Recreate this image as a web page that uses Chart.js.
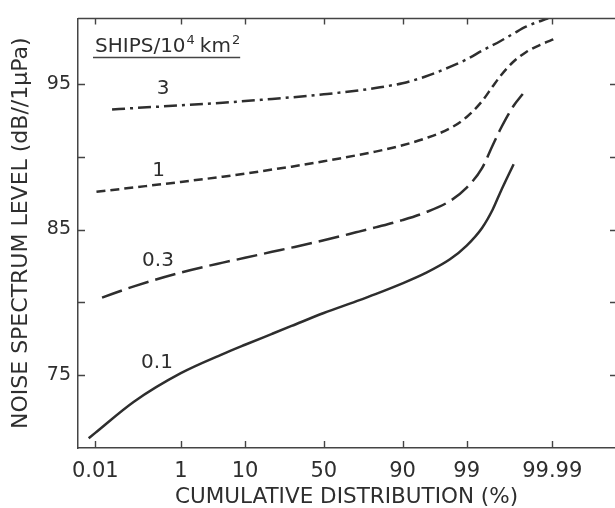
<!DOCTYPE html>
<html><head><meta charset="utf-8">
<script src="https://cdn.jsdelivr.net/npm/chart.js@4"></script>
<style>html,body{margin:0;padding:0;background:#fff;overflow:hidden}#wrap{width:615px;height:508px}</style>
</head><body><div id="wrap"><canvas id="c" width="615" height="508"></canvas></div>
<script>
// ---- data (x in cumulative %, y in dB re 1 µPa) ----
const xTickPercents = [0.01, 1, 10, 50, 90, 99, 99.99];
const xTickLabels = ['0.01', '1', '10', '50', '90', '99', '99.99'];
const yTickValues = [75, 80, 85, 90, 95];
const yLabeledTicks = [75, 85, 95];
const seriesNames = ['3', '1', '0.3', '0.1'];

const s3_pct = [0.0285, 0.1, 1, 5, 10, 20, 30, 50, 70, 80, 90, 95, 98, 99, 99.5, 99.8, 99.9, 99.95, 99.987];
const s3_db  = [93.25, 93.34, 93.53, 93.71, 93.82, 93.97, 94.08, 94.29, 94.53, 94.72, 95.05, 95.49, 96.17, 96.69, 97.28, 97.95, 98.46, 98.93, 99.5];

const s1_pct = [0.0108, 0.1, 1, 5, 10, 20, 30, 50, 70, 80, 90, 95, 98, 99, 99.5, 99.7, 99.8, 99.9, 99.95, 99.98, 99.991];
const s1_db  = [87.59, 87.89, 88.27, 88.63, 88.84, 89.12, 89.32, 89.69, 90.09, 90.35, 90.79, 91.25, 91.95, 92.73, 93.81, 94.82, 95.56, 96.54, 97.18, 97.72, 98.07];

const s03_pct = [0.0154, 0.1, 1, 5, 10, 20, 30, 50, 70, 80, 90, 95, 98, 99, 99.5, 99.7, 99.8, 99.9, 99.94];
const s03_db  = [80.33, 81.1, 82.05, 82.73, 83.06, 83.47, 83.76, 84.26, 84.81, 85.15, 85.65, 86.16, 86.96, 87.88, 89.22, 90.77, 91.92, 93.5, 94.31];

const s01_pct = [0.0065, 0.01, 0.1, 1, 5, 10, 20, 30, 50, 70, 80, 90, 95, 98, 99, 99.5, 99.7, 99.8, 99.9];
const s01_db  = [70.67, 71.04, 73.18, 75.14, 76.45, 77.09, 77.84, 78.38, 79.27, 80.07, 80.57, 81.31, 81.99, 82.96, 83.9, 85.11, 86.36, 87.6, 89.49];

const xMinZ = -4.0, xMaxZ = 4.74;   // probability-axis limits (normal deviates)
const yMin = 70, yMax = 99.5;

// inverse normal CDF (probability-paper axis transform)
function probit(p){
  const a=[-3.969683028665376e+01,2.209460984245205e+02,-2.759285104469687e+02,1.383577518672690e+02,-3.066479806614716e+01,2.506628277459239e+00];
  const b=[-5.447609879822406e+01,1.615858368580409e+02,-1.556989798598866e+02,6.680131188771972e+01,-1.328068155288572e+01];
  const c=[-7.784894002430293e-03,-3.223964580411365e-01,-2.400758277161838e+00,-2.549732539343734e+00,4.374664141464968e+00,2.938163982698783e+00];
  const d=[7.784695709041462e-03,3.224671290700398e-01,2.445134137142996e+00,3.754408661907416e+00];
  const pl=0.02425, ph=1-pl; let q,r;
  if(p<pl){q=Math.sqrt(-2*Math.log(p));return (((((c[0]*q+c[1])*q+c[2])*q+c[3])*q+c[4])*q+c[5])/((((d[0]*q+d[1])*q+d[2])*q+d[3])*q+1);}
  if(p<=ph){q=p-0.5;r=q*q;return (((((a[0]*r+a[1])*r+a[2])*r+a[3])*r+a[4])*r+a[5])*q/(((((b[0]*r+b[1])*r+b[2])*r+b[3])*r+b[4])*r+1);}
  q=Math.sqrt(-2*Math.log(1-p));return -(((((c[0]*q+c[1])*q+c[2])*q+c[3])*q+c[4])*q+c[5])/((((d[0]*q+d[1])*q+d[2])*q+d[3])*q+1);
}
const toPts = (pct, db) => pct.map((p, i) => ({x: probit(p / 100), y: db[i]}));

const INK = '#2e2e2e';
const FONT = 'DejaVu Sans';

function ds(label, pct, db, dash){
  return {label, data: toPts(pct, db), borderColor: INK, borderWidth: 2.5, borderDash: dash,
    pointRadius: 0, cubicInterpolationMode: 'monotone', fill: false, borderCapStyle: 'butt'};
}

const framePlugin = {
  id: 'frame',
  afterDraw(chart){
    const {ctx, chartArea: a, scales: {x, y}} = chart;
    ctx.save();
    ctx.strokeStyle = '#444';
    ctx.lineWidth = 1.5;
    ctx.beginPath(); ctx.moveTo(a.left, a.top); ctx.lineTo(a.right, a.top); ctx.stroke();
    ctx.lineWidth = 1.4;
    ctx.beginPath();
    x.ticks.forEach(t => {
      const px = Math.round(x.getPixelForValue(t.value)) + 0.5;
      ctx.moveTo(px, a.bottom); ctx.lineTo(px, a.bottom - 7);
      ctx.moveTo(px, a.top); ctx.lineTo(px, a.top + 6);
    });
    y.ticks.forEach(t => {
      const py = Math.round(y.getPixelForValue(t.value)) + 0.5;
      ctx.moveTo(a.left, py); ctx.lineTo(a.left + 7, py);
      ctx.moveTo(a.right, py); ctx.lineTo(a.right - 5, py);
    });
    ctx.stroke();

    // legend header
    ctx.fillStyle = INK;
    ctx.textBaseline = 'alphabetic';
    ctx.textAlign = 'left';
    let cx = 95;
    const base = 52;
    ctx.font = '20px "' + FONT + '"';
    ctx.fillText('SHIPS/10', cx, base); cx += ctx.measureText('SHIPS/10').width + 1;
    ctx.font = '13px "' + FONT + '"';
    ctx.fillText('4', cx, base - 8); cx += ctx.measureText('4').width + 5;
    ctx.font = '20px "' + FONT + '"';
    ctx.fillText('km', cx, base); cx += ctx.measureText('km').width + 1;
    ctx.font = '13px "' + FONT + '"';
    ctx.fillText('2', cx, base - 8); cx += ctx.measureText('2').width;
    ctx.lineWidth = 1.5;
    ctx.beginPath(); ctx.moveTo(93, 57.5); ctx.lineTo(Math.max(cx, 240), 57.5); ctx.stroke();

    // curve labels
    ctx.font = '20px "' + FONT + '"';
    ctx.textAlign = 'center';
    ctx.textBaseline = 'middle';
    const labelPos = [[163, 89], [158.5, 171], [158, 261], [157, 363]];
    seriesNames.forEach((n, i) => ctx.fillText(n, labelPos[i][0], labelPos[i][1]));
    ctx.restore();
  }
};

new Chart(document.getElementById('c'), {
  type: 'line',
  data: {datasets: [
    ds(seriesNames[0], s3_pct, s3_db, [13, 5, 3, 5]),
    ds(seriesNames[1], s1_pct, s1_db, [9, 5]),
    ds(seriesNames[2], s03_pct, s03_db, [21, 7]),
    ds(seriesNames[3], s01_pct, s01_db, [])
  ]},
  options: {
    responsive: false, animation: false,
    layout: {padding: {left: 0, right: 0, top: 10, bottom: 0}},
    plugins: {legend: {display: false}, tooltip: {enabled: false}},
    scales: {
      x: {
        type: 'linear', min: xMinZ, max: xMaxZ,
        afterBuildTicks: s => { s.ticks = xTickPercents.map(p => ({value: probit(p / 100)})); },
        afterFit: s => { s.height = 60; },
        ticks: {autoSkip: false, maxRotation: 0, padding: 11, color: INK,
          font: {family: FONT, size: 21}, callback: (v, i) => xTickLabels[i]},
        grid: {display: false, drawTicks: false, drawOnChartArea: false},
        border: {display: true, color: '#444', width: 1.5},
        title: {display: true, text: 'CUMULATIVE DISTRIBUTION (%)', color: INK,
          font: {family: FONT, size: 21.5, lineHeight: 1}, padding: {top: 0, bottom: 0}}
      },
      y: {
        type: 'linear', min: yMin, max: yMax,
        afterBuildTicks: s => { s.ticks = yTickValues.map(v => ({value: v})); },
        afterFit: s => { s.width = 78; },
        ticks: {padding: 7, color: INK, font: {family: FONT, size: 19},
          callback: v => yLabeledTicks.includes(v) ? String(v) : ''},
        grid: {display: false, drawTicks: false, drawOnChartArea: false},
        border: {display: true, color: '#444', width: 1.5},
        title: {display: true, text: 'NOISE SPECTRUM LEVEL (dB//1\u03bcPa)', color: INK,
          font: {family: FONT, size: 22, lineHeight: 1.2}, padding: {top: 8, bottom: 0}}
      }
    }
  },
  plugins: [framePlugin]
});
</script></body></html>
